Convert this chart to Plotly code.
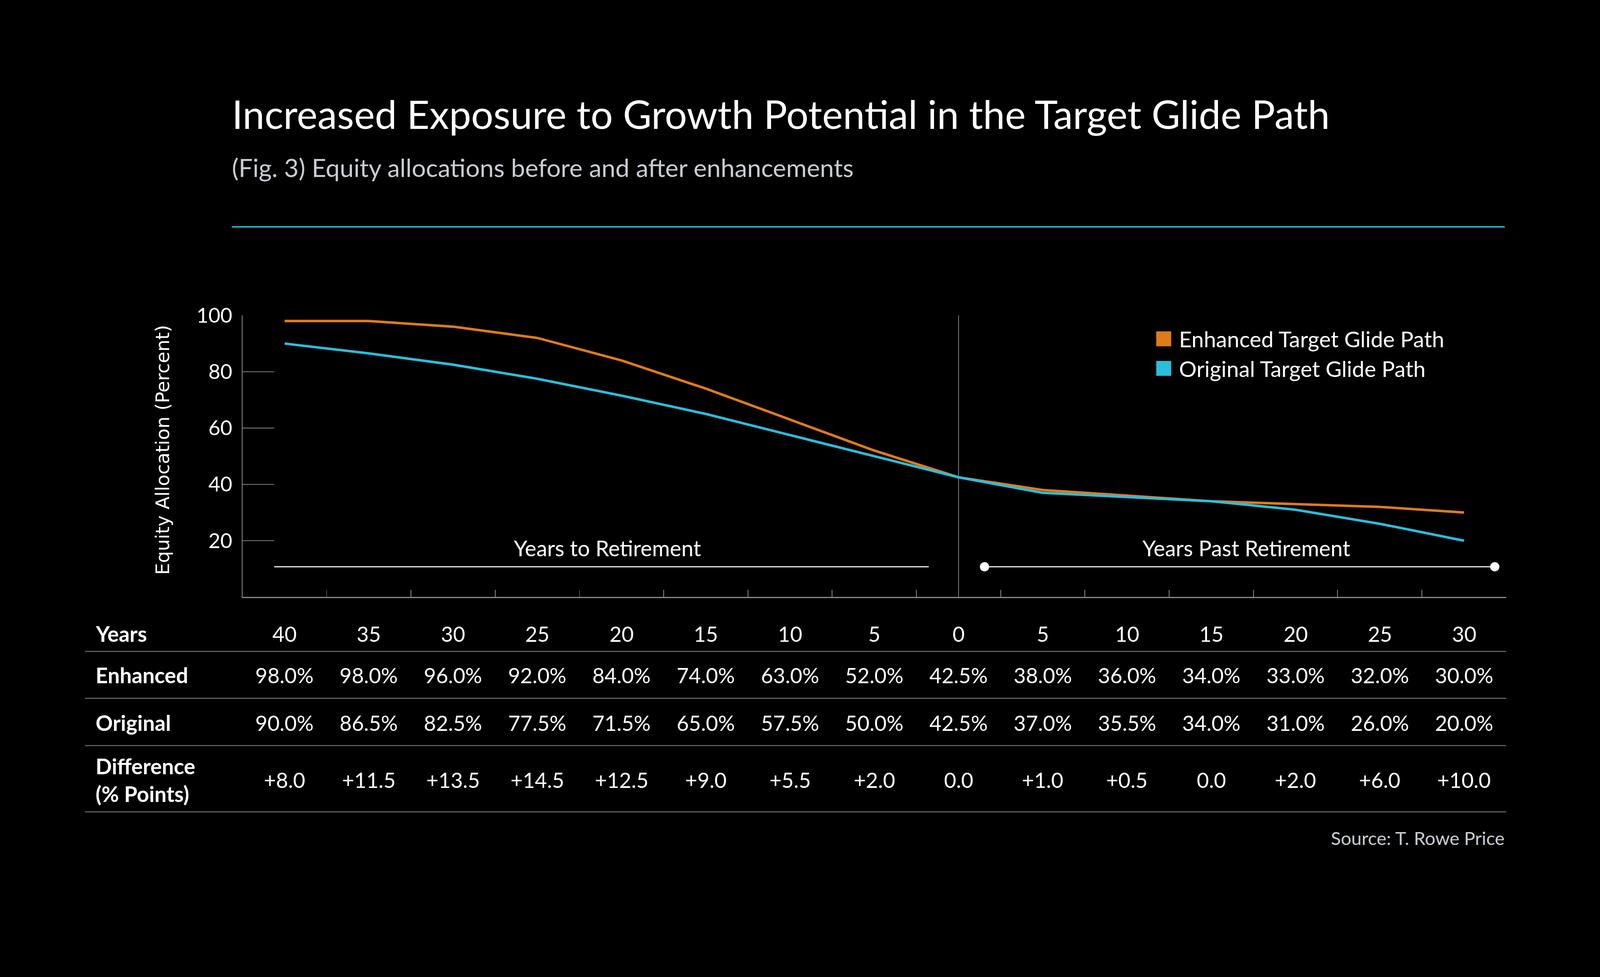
import plotly.graph_objects as go

years_labels = ["40", "35", "30", "25", "20", "15", "10", "5", "0", "5", "10", "15", "20", "25", "30"]
enhanced = [98.0, 98.0, 96.0, 92.0, 84.0, 74.0, 63.0, 52.0, 42.5, 38.0, 36.0, 34.0, 33.0, 32.0, 30.0]
original = [90.0, 86.5, 82.5, 77.5, 71.5, 65.0, 57.5, 50.0, 42.5, 37.0, 35.5, 34.0, 31.0, 26.0, 20.0]
y_ticks = [20, 40, 60, 80, 100]
retirement_index = 8

ORANGE = "#E07B1A"
CYAN = "#29BFDB"
GRAY = "#8c8c8c"
TABLE_LINE = "#5f6771"
FONT = "Lato"

W, H = 4500, 2501
L, R, T, B = 682, 264, 887, 822
PW = W - L - R
PH = H - T - B


def px(xpix):
    return (xpix - L) / PW


def py(ypix):
    return (H - B - ypix) / PH


x_idx = list(range(len(years_labels)))
difference = [e - o for e, o in zip(enhanced, original)]
diff_text = [("+%.1f" % d) if d > 0 else "%.1f" % d for d in difference]

fig = go.Figure()
fig.add_trace(go.Scatter(x=x_idx, y=enhanced, mode="lines", name="Enhanced Target Glide Path",
                         line=dict(color=ORANGE, width=7), showlegend=False))
fig.add_trace(go.Scatter(x=x_idx, y=original, mode="lines", name="Original Target Glide Path",
                         line=dict(color=CYAN, width=7), showlegend=False))

shapes = []
annotations = []

# y grid stubs
for v in y_ticks[:-1]:
    shapes.append(dict(type="line", xref="paper", yref="y", x0=0, x1=px(771), y0=v, y1=v,
                       line=dict(color=GRAY, width=2), layer="below"))
# retirement vertical line
shapes.append(dict(type="line", xref="x", yref="y", x0=retirement_index, x1=retirement_index,
                   y0=0, y1=100, line=dict(color=GRAY, width=2), layer="below"))

# bracket lines
shapes.append(dict(type="line", xref="paper", yref="paper", x0=px(771), x1=px(2612),
                   y0=py(1594), y1=py(1594), line=dict(color="white", width=3)))
shapes.append(dict(type="line", xref="paper", yref="paper", x0=px(2769), x1=px(4204),
                   y0=py(1594), y1=py(1594), line=dict(color="white", width=3)))
for cx in (2769, 4204):
    shapes.append(dict(type="circle", xref="paper", yref="paper",
                       x0=px(cx - 13), x1=px(cx + 13), y0=py(1594 + 13), y1=py(1594 - 13),
                       fillcolor="white", line=dict(color="white", width=0)))

annotations.append(dict(text="Years to Retirement", xref="paper", yref="paper", x=px(1708), y=py(1541),
                        showarrow=False, font=dict(family=FONT, size=61, color="white"),
                        xanchor="center", yanchor="middle"))
annotations.append(dict(text="Years Past Retirement", xref="paper", yref="paper", x=px(3505), y=py(1541),
                        showarrow=False, font=dict(family=FONT, size=61, color="white"),
                        xanchor="center", yanchor="middle"))

# y axis title
annotations.append(dict(text="Equity Allocation (Percent)", xref="paper", yref="paper", x=px(457), y=py(1266),
                        textangle=-90, showarrow=False,
                        font=dict(family="DejaVu Sans", size=53, color="white"),
                        xanchor="center", yanchor="middle"))

# title, subtitle, rule
annotations.append(dict(text="Increased Exposure to Growth Potential in the Target Glide Path",
                        xref="paper", yref="paper", x=px(650), y=py(321), showarrow=False,
                        font=dict(family=FONT, size=110.5, color="white"), xanchor="left", yanchor="middle"))
annotations.append(dict(text="(Fig. 3) Equity allocations before and after enhancements",
                        xref="paper", yref="paper", x=px(650), y=py(471), showarrow=False,
                        font=dict(family=FONT, size=70.5, color="#c9ccd3"), xanchor="left", yanchor="middle"))
shapes.append(dict(type="line", xref="paper", yref="paper", x0=px(652), x1=px(4232),
                   y0=py(638), y1=py(638), line=dict(color=CYAN, width=4)))

# legend
legend_items = [("Enhanced Target Glide Path", ORANGE, 953), ("Original Target Glide Path", CYAN, 1036)]
for label, col, cy in legend_items:
    shapes.append(dict(type="rect", xref="paper", yref="paper", x0=px(3252), x1=px(3294),
                       y0=py(cy + 21), y1=py(cy - 21), fillcolor=col, line=dict(width=0)))
    annotations.append(dict(text=label, xref="paper", yref="paper", x=px(3314), y=py(cy),
                            showarrow=False, font=dict(family=FONT, size=62, color="white"),
                            xanchor="left", yanchor="middle"))

# table
row_label_x = px(267)
rows = [
    ("<b>Years</b>", years_labels, 1782),
    ("<b>Enhanced</b>", ["%.1f%%" % v for v in enhanced], 1899),
    ("<b>Original</b>", ["%.1f%%" % v for v in original], 2033),
    (None, diff_text, 2193),
]
for label, vals, cy in rows:
    if label:
        annotations.append(dict(text=label, xref="paper", yref="paper", x=row_label_x, y=py(cy),
                                showarrow=False, font=dict(family=FONT, size=60, color="white"),
                                xanchor="left", yanchor="middle"))
    for xi, t in zip(x_idx, vals):
        annotations.append(dict(text=t, xref="x", yref="paper", x=xi, y=py(cy), showarrow=False,
                                font=dict(family=FONT, size=59, color="white"),
                                xanchor="center", yanchor="middle"))
annotations.append(dict(text="<b>Difference</b>", xref="paper", yref="paper", x=row_label_x, y=py(2155),
                        showarrow=False, font=dict(family=FONT, size=60, color="white"),
                        xanchor="left", yanchor="middle"))
annotations.append(dict(text="<b>(% Points)</b>", xref="paper", yref="paper", x=row_label_x, y=py(2233),
                        showarrow=False, font=dict(family=FONT, size=60, color="white"),
                        xanchor="left", yanchor="middle"))
for ly in (1832, 1964, 2097, 2283):
    shapes.append(dict(type="line", xref="paper", yref="paper", x0=px(239), x1=px(4236),
                       y0=py(ly), y1=py(ly), line=dict(color=TABLE_LINE, width=3)))

annotations.append(dict(text="Source: T. Rowe Price", xref="paper", yref="paper", x=px(4234), y=py(2356),
                        showarrow=False, font=dict(family=FONT, size=52, color="#c9ccd3"),
                        xanchor="right", yanchor="middle"))

fig.update_layout(
    width=W, height=H,
    margin=dict(l=L, r=R, t=T, b=B, pad=0),
    paper_bgcolor="black", plot_bgcolor="black",
    font=dict(family=FONT, color="white"),
    shapes=shapes, annotations=annotations,
    showlegend=False,
)
fig.update_xaxes(range=[-0.5, len(years_labels) - 0.5], tickvals=[i + 0.5 for i in x_idx],
                 ticks="inside", ticklen=20, tickwidth=2, tickcolor=GRAY,
                 showticklabels=False, showgrid=False, zeroline=False,
                 showline=True, linecolor=GRAY, linewidth=3)
fig.update_yaxes(range=[0, 100], tickvals=y_ticks, ticks="", showgrid=False, zeroline=False,
                 showline=True, linecolor=GRAY, linewidth=2,
                 tickfont=dict(family=FONT, size=58, color="white"), ticklabelstandoff=15)

fit_script = """
(function(){
  var gd = document.getElementById('{plot_id}');
  var s = window.innerWidth / %d;
  document.documentElement.style.margin = '0';
  document.documentElement.style.overflow = 'hidden';
  document.documentElement.style.background = 'black';
  document.body.style.margin = '0';
  document.body.style.overflow = 'hidden';
  document.body.style.background = 'black';
  var p = gd.parentElement;
  p.style.width = window.innerWidth + 'px';
  p.style.height = Math.round(%d * s) + 'px';
  p.style.overflow = 'hidden';
  gd.style.transformOrigin = '0 0';
  gd.style.transform = 'scale(' + s + ')';
})();
""" % (W, H)

fig.write_html("out.html", config={"displayModeBar": False}, post_script=fit_script)
